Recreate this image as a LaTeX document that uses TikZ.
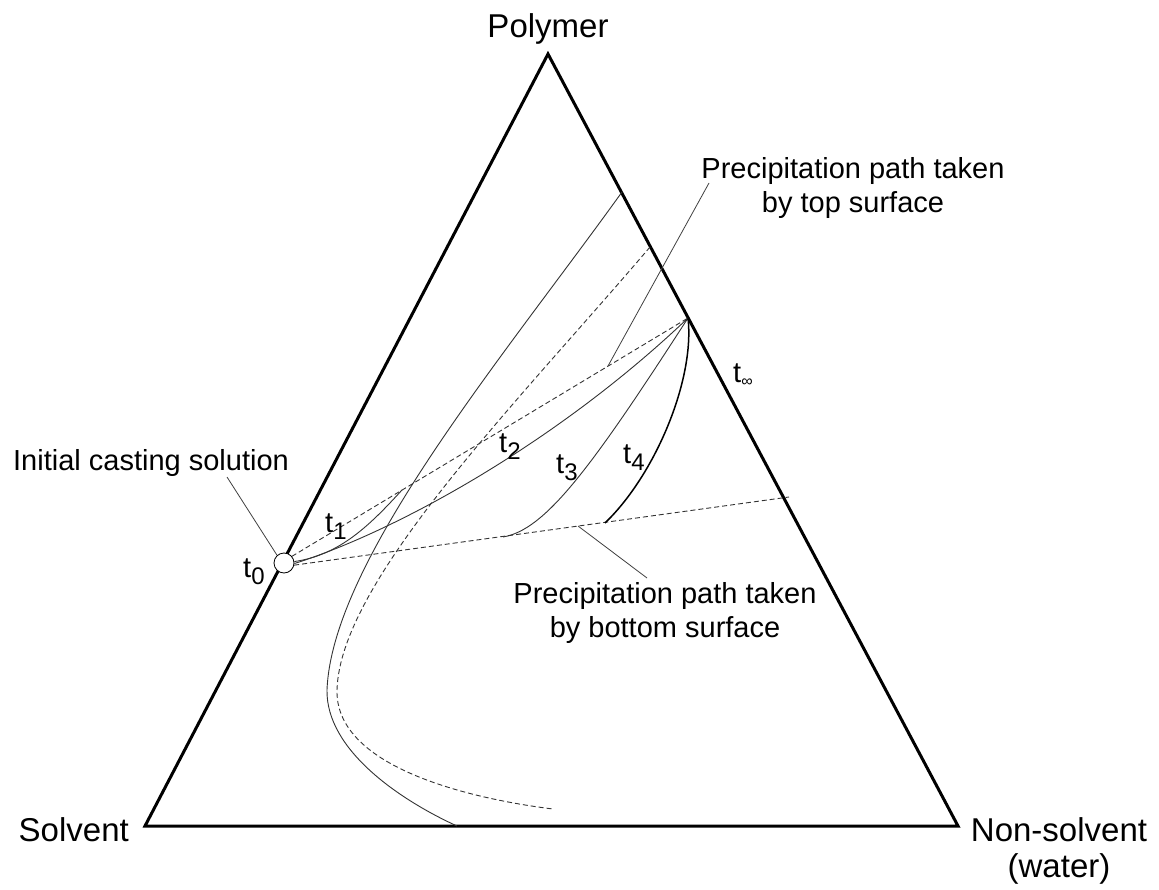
\documentclass[tikz,border=0pt]{standalone}
\usepackage{fontspec}
\setmainfont{Liberation Sans}
\newcommand{\tsub}[1]{t\raisebox{-7pt}{\fontsize{24}{24}\selectfont #1}}
\tikzset{
  phasepicture/.style={x=1pt, y=-1pt},
  phasecorner/.style={font=\fontsize{33}{36}\selectfont, inner sep=0pt, align=center},
  phasenote/.style={font=\fontsize{29}{34.5}\selectfont, inner sep=0pt, align=center},
  phasetime/.style={font=\fontsize{29}{34}\selectfont, inner sep=0pt, anchor=base west},
  phaseedge/.style={line width=3pt, line join=miter},
  phasecurve/.style={line width=0.9pt, draw=black!80},
  phasefinal/.style={line width=1.5pt},
  phasetie/.style={line width=0.9pt, draw=black!80, dash pattern=on 5pt off 3pt},
  phaseleader/.style={line width=0.8pt, draw=black!75},
  phasecast/.style={circle, draw, fill=white, line width=0.8pt, minimum size=20pt, inner sep=0pt}
}

\begin{document}
\begin{tikzpicture}[phasepicture]
\useasboundingbox (0,0) rectangle (1159,890);
\coordinate (polymer) at (548,54);
\coordinate (solvent) at (145,826);
\coordinate (nonsolvent) at (958,826);
\draw[phaseedge] (polymer) -- (nonsolvent) -- (solvent) -- cycle;
\draw[phasecurve] (622,192) .. controls (505,355) and (332,560) .. (327,690) .. controls (326,750) and (400,800) .. (457,826);
\draw[phasetie] (650,247) .. controls (520,400) and (340,580) .. (337,690) .. controls (335,770) and (480,800) .. (553,809);
\node[phasecast] (cast) at (284,563) {};
\coordinate (tinf) at (688,318);
\coordinate (bottomend) at (789,497);
\coordinate (t1end) at (402,490);
\coordinate (t3start) at (503,537);
\coordinate (t4start) at (605,523);
\draw[phasetie] (cast.40) -- (tinf);
\draw[phasetie] (cast.-12) -- (bottomend);
\draw[phasecurve] (cast.8) .. controls (340,555) and (370,525) .. (t1end);
\draw[phasecurve] (cast.-3) .. controls (400,530) and (560,440) .. (tinf);
\draw[phasecurve] (t3start) .. controls (545,530) and (590,470) .. (tinf);
\draw[phasecurve, phasefinal, draw=black] (t4start) .. controls (655,475) and (695,380) .. (tinf);
\node[phasecorner, anchor=base] (polymerlabel) at (548,38) {Polymer};
\node[phasecorner, anchor=base east] (solventlabel) at (129,841) {Solvent};
\node[phasecorner, anchor=north] (nonsolventlabel) at (1059,817) {Non-solvent\\(water)};
\node[phasenote, anchor=base] (castlabel) at (151,470) {Initial casting solution};
\node[phasenote, anchor=north] (toplabel) at (853,157) {Precipitation path taken\\by top surface};
\node[phasenote, anchor=north] (bottomlabel) at (665,582) {Precipitation path taken\\by bottom surface};
\coordinate (topfoot) at (608,366);
\coordinate (tophead) at (709,183);
\draw[phaseleader] (topfoot) -- (tophead);
\coordinate (bottomfoot) at (578,526);
\coordinate (bottomhead) at (647,578);
\draw[phaseleader] (bottomfoot) -- (bottomhead);
\coordinate (casthead) at (227,477);
\draw[phaseleader] (casthead) -- (cast.132);
\node[phasetime] (t0) at (243,577) {\tsub{0}};
\node[phasetime] (t1) at (325,532) {\tsub{1}};
\node[phasetime] (t2) at (499,452) {\tsub{2}};
\node[phasetime] (t3) at (556,473) {\tsub{3}};
\node[phasetime] (t4) at (623,463) {\tsub{4}};
\node[phasetime] (tinflabel) at (733,383) {t\raisebox{-4pt}{\fontsize{16}{16}\selectfont ∞}};
\end{tikzpicture}
\end{document}
